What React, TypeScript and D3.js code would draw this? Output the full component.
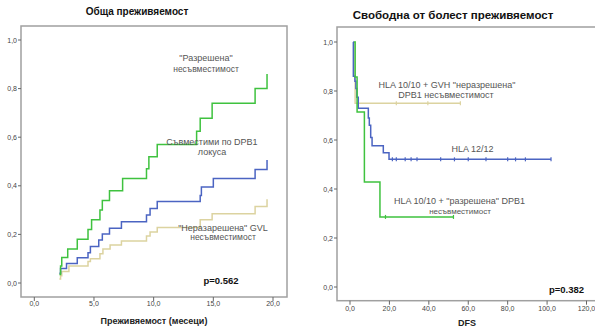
import * as d3 from 'd3';

// Left panel: cumulative survival curves (Обща преживяемост)
const leftGreenT = [2.1, 2.2, 2.3, 2.8, 3.6, 4.5, 4.8, 5.5, 5.7, 6.3, 7.4, 9.4, 9.6, 10.3, 13.6, 13.9, 14.9, 18.5, 19.5];
const leftGreenV = [0.035, 0.07, 0.105, 0.14, 0.18, 0.22, 0.26, 0.3, 0.34, 0.38, 0.43, 0.47, 0.52, 0.57, 0.625, 0.678, 0.74, 0.8, 0.86];
const leftBlueT = [2.1, 2.2, 2.7, 3.6, 4.5, 4.7, 5.4, 5.7, 6.3, 7.3, 9.4, 9.7, 10.3, 13.9, 14.0, 15.0, 18.5, 19.5];
const leftBlueV = [0.04, 0.06, 0.08, 0.104, 0.125, 0.15, 0.177, 0.202, 0.225, 0.252, 0.28, 0.307, 0.335, 0.36, 0.395, 0.43, 0.467, 0.506];
const leftBeigeT = [2.1, 2.2, 2.3, 2.9, 4.5, 4.7, 5.5, 5.75, 6.35, 7.3, 9.4, 9.7, 10.3, 13.9, 14.9, 18.5, 19.5];
const leftBeigeV = [0.016, 0.03, 0.047, 0.07, 0.088, 0.1, 0.12, 0.14, 0.156, 0.173, 0.193, 0.21, 0.228, 0.26, 0.285, 0.315, 0.345];
const leftXTicks = [0, 5, 10, 15, 20];

// Right panel: disease-free survival (DFS)
const rightGreenT = [2.0, 2.6, 3.6, 7.3, 15.2, 52.5];
const rightGreenV = [1.0, 0.857, 0.714, 0.429, 0.286, 0.286];
const rightGreenCens = [18, 52.5];
const rightBeigeT = [2.4, 2.6, 56];
const rightBeigeV = [1.0, 0.75, 0.75];
const rightBeigeCens = [23.5, 39.5, 56];
const rightBlueT = [1.6, 1.7, 2.5, 3.0, 3.5, 4.2, 9.3, 9.8, 10.5, 11.2, 16.9, 19.8, 102];
const rightBlueV = [1.0, 0.86, 0.84, 0.81, 0.775, 0.73, 0.69, 0.66, 0.61, 0.577, 0.548, 0.521, 0.521];
const rightBlueCens = [21.5, 23.5, 28, 31, 34, 46, 53, 60, 69, 80, 84, 89, 102];
const rightXTicks = [0, 20, 40, 60, 80, 100, 120];

const yTicks = [0, 0.2, 0.4, 0.6, 0.8, 1.0];

const GREEN = '#3fc23f';
const BLUE = '#4b64c2';
const BEIGE = '#dcd3a0';
const FONT = '"Liberation Sans", Arial, sans-serif';

const fmt = (v: number) => v.toFixed(1).replace('.', ',');

const zip = (t: number[], v: number[]) => t.map((d, i) => [d, v[i]] as [number, number]);

export default function App() {
  const xL = d3.scaleLinear().domain([0, 20]).range([34.3, 273]);
  const yL = d3.scaleLinear().domain([0, 1]).range([283, 40]);
  const xR = d3.scaleLinear().domain([0, 120]).range([350, 586.5]);
  const yR = d3.scaleLinear().domain([0, 1]).range([287, 42]);

  const lineL = d3.line<[number, number]>().x(d => xL(d[0])).y(d => yL(d[1])).curve(d3.curveStepAfter);
  const lineR = d3.line<[number, number]>().x(d => xR(d[0])).y(d => yR(d[1])).curve(d3.curveStepAfter);

  // survival value at time t for a step series
  const at = (t: number, ts: number[], vs: number[]) => {
    let v = vs[0];
    ts.forEach((d, i) => { if (d <= t) v = vs[i]; });
    return v;
  };

  const leftFrame = { x0: 21, x1: 287, y0: 26, y1: 297 };
  const rightFrame = { x0: 337, x1: 602, y0: 27, y1: 300.7 };

  const labelStyle = { fontFamily: FONT, fontSize: 9, fill: '#555' } as const;
  const tickStyle = { fontFamily: FONT, fontSize: 7, fill: '#444' } as const;

  return (
    <div style={{ position: 'fixed', left: 0, top: 0 }}>
      <svg width={595} height={329} style={{ display: 'block', background: '#fff' }}>
        {/* ---------- left panel ---------- */}
        <text x={137} y={15} textAnchor="middle" fontFamily={FONT} fontSize={10} fontWeight="bold" fill="#111">Обща преживяемост</text>
        <rect x={leftFrame.x0} y={leftFrame.y0} width={leftFrame.x1 - leftFrame.x0} height={leftFrame.y1 - leftFrame.y0}
          fill="none" stroke="#a0a0a0" strokeWidth={1.5} />
        {yTicks.map(t => (
          <g key={'ly' + t}>
            <line x1={leftFrame.x0 - 3} x2={leftFrame.x0} y1={yL(t)} y2={yL(t)} stroke="#666" strokeWidth={1} />
            <text x={leftFrame.x0 - 4} y={yL(t) + 2.5} textAnchor="end" {...tickStyle}>{fmt(t)}</text>
          </g>
        ))}
        {leftXTicks.map(t => (
          <g key={'lx' + t}>
            <line x1={xL(t)} x2={xL(t)} y1={leftFrame.y1} y2={leftFrame.y1 + 4} stroke="#666" strokeWidth={1} />
            <text x={xL(t)} y={leftFrame.y1 + 9} textAnchor="middle" {...tickStyle}>{fmt(t)}</text>
          </g>
        ))}
        <path d={lineL(zip(leftBeigeT, leftBeigeV)) ?? ''} fill="none" stroke={BEIGE} strokeWidth={1.5} />
        <path d={lineL(zip(leftBlueT, leftBlueV)) ?? ''} fill="none" stroke={BLUE} strokeWidth={1.5} />
        <path d={lineL(zip(leftGreenT, leftGreenV)) ?? ''} fill="none" stroke={GREEN} strokeWidth={1.5} />

        <text x={206} y={61} textAnchor="middle" {...labelStyle}>"Разрешена"</text>
        <text x={206} y={72} textAnchor="middle" {...labelStyle} fontSize={8.5}>несъвместимост</text>
        <text x={212} y={145} textAnchor="middle" {...labelStyle}>Съвместими по DPB1</text>
        <text x={212} y={155} textAnchor="middle" {...labelStyle}>локуса</text>
        <text x={223} y={230.5} textAnchor="middle" {...labelStyle}>"Неразарешена" GVL</text>
        <text x={223} y={240} textAnchor="middle" {...labelStyle} fontSize={8.5}>несъвместимост</text>
        <text x={221} y={283.5} textAnchor="middle" fontFamily={FONT} fontSize={9.5} fontWeight="bold" fill="#111">p=0.562</text>
        <text x={154} y={323.5} textAnchor="middle" fontFamily={FONT} fontSize={9} fontWeight="bold" fill="#222">Преживяемост (месеци)</text>

        {/* ---------- right panel ---------- */}
        <text x={453} y={19} textAnchor="middle" fontFamily={FONT} fontSize={11.5} fontWeight="bold" fill="#111">Свободна от болест преживяемост</text>
        <rect x={rightFrame.x0} y={rightFrame.y0} width={rightFrame.x1 - rightFrame.x0} height={rightFrame.y1 - rightFrame.y0}
          fill="none" stroke="#a0a0a0" strokeWidth={1.5} />
        {yTicks.map(t => (
          <g key={'ry' + t}>
            <line x1={rightFrame.x0 - 3} x2={rightFrame.x0} y1={yR(t)} y2={yR(t)} stroke="#666" strokeWidth={1} />
            <text x={rightFrame.x0 - 4} y={yR(t) + 2.5} textAnchor="end" {...tickStyle}>{fmt(t)}</text>
          </g>
        ))}
        {rightXTicks.map(t => (
          <g key={'rx' + t}>
            <line x1={xR(t)} x2={xR(t)} y1={rightFrame.y1} y2={rightFrame.y1 + 4} stroke="#666" strokeWidth={1} />
            <text x={xR(t)} y={rightFrame.y1 + 10} textAnchor="middle" {...tickStyle}>{fmt(t)}</text>
          </g>
        ))}
        <path d={lineR(zip(rightBeigeT, rightBeigeV)) ?? ''} fill="none" stroke={BEIGE} strokeWidth={1.5} />
        {rightBeigeCens.map((c, i) => (
          <line key={'bc' + i} x1={xR(c)} x2={xR(c)} y1={yR(at(c, rightBeigeT, rightBeigeV)) - 2} y2={yR(at(c, rightBeigeT, rightBeigeV)) + 2} stroke={BEIGE} strokeWidth={1.2} />
        ))}
        <path d={lineR(zip(rightBlueT, rightBlueV)) ?? ''} fill="none" stroke={BLUE} strokeWidth={1.5} />
        {rightBlueCens.map((c, i) => (
          <line key={'uc' + i} x1={xR(c)} x2={xR(c)} y1={yR(at(c, rightBlueT, rightBlueV)) - 2} y2={yR(at(c, rightBlueT, rightBlueV)) + 2} stroke={BLUE} strokeWidth={1.2} />
        ))}
        <path d={lineR(zip(rightGreenT, rightGreenV)) ?? ''} fill="none" stroke={GREEN} strokeWidth={1.5} />
        {rightGreenCens.map((c, i) => (
          <line key={'gc' + i} x1={xR(c)} x2={xR(c)} y1={yR(at(c, rightGreenT, rightGreenV)) - 2} y2={yR(at(c, rightGreenT, rightGreenV)) + 2} stroke={GREEN} strokeWidth={1.2} />
        ))}

        <text x={447} y={87.5} textAnchor="middle" {...labelStyle}>HLA 10/10 + GVH "неразрешена"</text>
        <text x={446} y={97.5} textAnchor="middle" {...labelStyle}>DPB1 несъвместимост</text>
        <text x={472.5} y={151.5} textAnchor="middle" {...labelStyle}>HLA 12/12</text>
        <text x={459.5} y={204} textAnchor="middle" {...labelStyle}>HLA 10/10 + "разрешена" DPB1</text>
        <text x={460} y={213.5} textAnchor="middle" {...labelStyle} fontSize={8}>несъвместимост</text>
        <text x={566.5} y={292.5} textAnchor="middle" fontFamily={FONT} fontSize={9.5} fontWeight="bold" fill="#111">p=0.382</text>
        <text x={467} y={325.5} textAnchor="middle" fontFamily={FONT} fontSize={9} fontWeight="bold" fill="#222">DFS</text>
      </svg>
    </div>
  );
}
